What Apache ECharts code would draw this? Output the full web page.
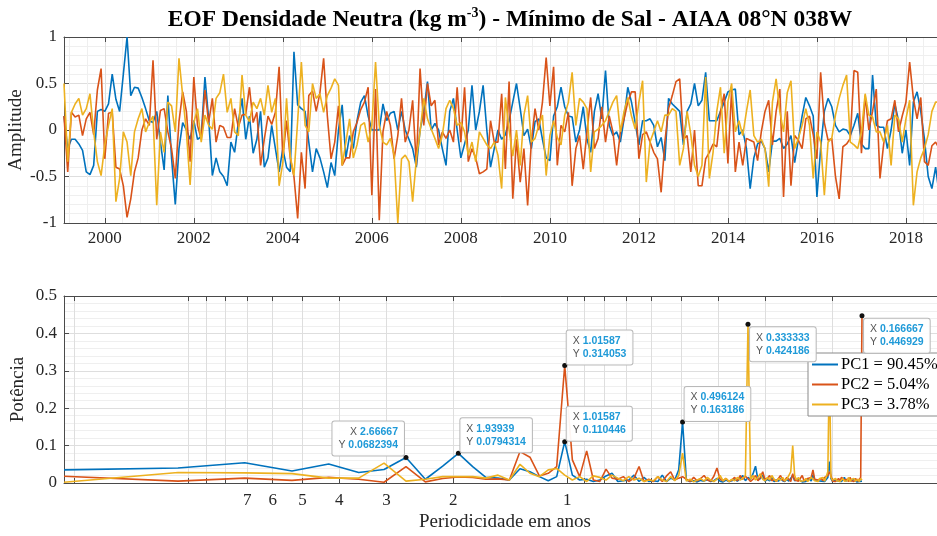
<!DOCTYPE html>
<html><head><meta charset="utf-8">
<script src="https://cdn.jsdelivr.net/npm/echarts@6/dist/echarts.min.js"></script>
<style>html,body{margin:0;padding:0;background:#fff}#c{width:937px;height:536px}</style>
</head><body><div id="c"></div>
<script>
// ---- Top panel: monthly principal-component amplitudes (from Feb 1999) ----
const startYear = 1999 + 1 / 12;
const pc1 = [
 0.15,-0.2,-0.1,-0.1,-0.15,-0.22,-0.45,-0.48,-0.38,0.2,0.22,0.2,
 0.28,0.6,0.33,0.2,0.6,1.0,0.37,0.46,0.45,0.35,0.23,0.1,
 0.08,0.2,-0.13,-0.43,0.37,-0.3,-0.8,-0.2,0.08,0.0,-0.1,0.1,
 -0.1,-0.07,0.57,0.12,-0.49,-0.3,-0.45,-0.5,-0.6,-0.13,-0.24,0.08,
 0.34,-0.1,0.15,-0.25,-0.1,0.2,-0.4,-0.3,0.05,-0.2,-0.45,-0.2,
 -0.4,-0.45,0.84,0.27,0.23,0.2,-0.13,-0.45,-0.2,-0.3,-0.45,-0.62,
 -0.35,-0.49,0.0,0.27,-0.3,-0.06,-0.2,0.1,0.3,0.37,0.15,0.0,
 0.0,0.0,0.28,0.1,0.18,0.2,0.0,0.2,0.0,-0.1,-0.2,-0.4,
 0.0,0.2,0.52,0.0,0.07,0.0,-0.2,-0.38,0.2,0.34,0.0,-0.3,
 -0.15,0.0,0.48,0.0,0.2,0.48,0.0,-0.4,-0.2,0.0,-0.1,-0.05,
 0.1,0.3,0.5,0.23,-0.06,0.01,-0.2,0.09,0.12,-0.1,-0.3,-0.33,
 0.15,0.25,0.46,0.25,0.15,0.14,-0.13,0.0,0.25,-0.1,-0.24,0.2,
 0.39,0.12,0.64,0.05,-0.06,-0.02,-0.13,0.12,0.46,0.3,0.08,-0.16,
 0.1,0.1,0.12,0.05,-0.18,-0.08,-0.33,0.34,0.28,0.24,0.2,-0.16,
 0.2,0.28,0.5,0.26,0.32,0.62,0.1,0.1,0.1,0.2,0.3,0.41,
 0.43,0.44,-0.05,0.0,-0.2,-0.63,-0.3,-0.15,-0.12,-0.2,-0.45,-0.12,
 -0.12,-0.09,-0.2,-0.15,-0.06,-0.35,-0.1,0.15,0.35,0.26,0.15,-0.72,
 -0.2,0.2,0.34,0.25,0.05,-0.02,0.01,0.0,-0.06,0.05,0.18,-0.15,
 -0.2,-0.2,0.59,0.05,0.03,0.03,-0.2,0.0,0.28,0.1,-0.25,0.0,
 -0.38,0.3,0.41,0.2,-0.1,-0.5,-0.63,-0.4,-0.7
];
const pc2 = [
 0.15,-0.45,0.19,0.14,0.16,-0.06,0.12,0.19,-0.05,0.43,0.66,-0.31,
 0.18,0.19,-0.4,-0.42,-0.6,-0.94,-0.74,-0.45,-0.3,0.0,0.12,0.05,
 0.75,-0.1,0.21,0.23,-0.02,-0.2,-0.52,0.09,0.41,0.2,-0.34,0.57,
 0.05,-0.1,0.43,0.08,0.34,-0.13,0.05,0.03,-0.08,-0.08,0.23,0.03,
 0.16,0.17,0.46,0.08,0.19,-0.38,-0.1,0.15,0.06,0.19,0.68,-0.3,
 0.1,-0.3,-0.5,-0.95,-0.24,-0.63,0.37,0.42,0.2,0.4,0.77,0.15,
 -0.31,-0.13,0.26,-0.38,-0.3,-0.3,-0.02,0.08,0.22,0.3,0.46,-0.7,
 0.44,-0.97,-0.02,0.2,0.05,-0.31,-0.06,0.34,-0.13,0.0,0.32,-0.38,
 0.66,0.05,0.5,0.26,0.32,-0.16,-0.02,-0.09,0.0,-0.13,0.46,-0.13,
 0.46,-0.34,-0.2,-0.3,-0.47,-0.45,-0.42,0.1,-0.13,-0.13,0.39,-0.42,
 0.52,-0.74,-0.1,-0.56,-0.2,-0.81,-0.13,0.23,0.0,0.3,0.78,0.26,
 0.68,-0.38,0.05,-0.02,0.19,-0.6,-0.2,-0.06,-0.42,-0.02,0.35,-0.2,
 -0.09,0.25,-0.13,0.15,-0.02,-0.38,-0.02,0.12,0.3,0.41,0.41,-0.31,
 -0.05,-0.02,-0.13,-0.24,-0.31,-0.67,-0.13,0.23,0.37,0.52,0.55,-0.1,
 -0.06,-0.45,0.0,-0.6,-0.6,-0.31,-0.24,-0.15,-0.18,0.2,0.39,-0.36,
 0.43,-0.45,-0.13,-0.38,-0.09,-0.11,-0.13,-0.33,-0.02,0.2,0.32,-0.16,
 0.2,0.44,-0.72,0.2,-0.6,-0.06,-0.11,-0.2,0.12,0.15,-0.05,-0.31,
 0.62,0.08,-0.11,-0.09,-0.5,-0.74,-0.18,-0.15,-0.09,0.64,0.62,-0.25,
 0.37,0.0,0.2,0.44,-0.52,-0.15,0.1,0.12,0.32,-0.02,0.15,0.3,
 0.73,0.34,0.12,0.35,-0.34,-0.38,-0.17,-0.13,-0.2
];
const pc3 = [
 0.5,-0.34,0.19,0.28,0.34,0.16,0.23,0.39,-0.02,-0.34,-0.49,-0.16,
 0.05,0.23,-0.77,-0.52,-0.02,-0.13,-0.49,-0.02,0.12,0.23,-0.02,0.08,
 0.15,-0.81,-0.02,-0.24,0.3,0.26,-0.02,0.77,0.37,-0.02,-0.59,0.08,
 0.23,-0.13,0.16,0.05,0.01,0.34,0.4,0.6,0.19,0.34,-0.02,-0.06,
 0.59,0.16,0.09,0.3,0.23,0.34,0.16,0.48,0.19,0.34,-0.6,-0.35,
 0.34,-0.28,-0.49,0.1,0.73,0.05,-0.02,0.5,0.34,0.39,0.19,0.37,
 0.45,0.55,0.48,-0.38,-0.13,0.12,-0.3,-0.16,0.05,0.08,-0.13,0.05,
 0.73,0.05,-0.13,-0.16,-0.09,-0.27,-1.0,-0.31,-0.27,-0.34,-0.77,-0.31,
 -0.02,0.34,0.12,0.01,-0.09,-0.2,-0.06,0.23,0.32,0.23,0.05,0.08,
 -0.02,-0.27,-0.13,-0.34,-0.02,-0.09,-0.16,-0.2,-0.13,-0.27,-0.63,0.35,
 0.0,-0.28,0.0,-0.38,0.16,0.37,-0.13,-0.09,0.05,0.16,-0.49,-0.06,
 0.1,-0.08,-0.16,0.16,0.3,0.62,0.05,0.34,0.3,0.23,-0.45,-0.02,
 0.01,0.05,0.1,0.2,0.3,0.37,-0.02,0.2,0.35,0.15,0.01,0.3,
 0.53,-0.56,-0.13,-0.02,0.1,-0.02,0.16,0.16,0.23,0.2,-0.38,-0.2,
 0.2,-0.05,-0.38,-0.5,-0.38,0.57,-0.52,-0.24,0.2,0.46,-0.25,0.3,
 0.5,-0.02,0.1,-0.06,0.2,0.43,-0.06,-0.13,-0.1,-0.2,-0.61,0.3,
 0.55,0.2,-0.02,0.4,0.53,-0.2,-0.09,0.05,0.23,0.05,-0.52,-0.02,
 -0.13,-0.7,-0.13,-0.09,0.16,0.34,0.48,0.59,-0.13,-0.16,-0.2,-0.02,
 0.39,0.16,0.14,-0.02,-0.02,-0.13,0.05,-0.38,0.16,0.12,-0.13,0.12,
 0.32,-0.81,-0.45,-0.3,-0.2,-0.05,0.2,0.3,0.3
];

// ---- Bottom panel: power spectra, harmonic k = 1..128 of a 256-point FFT (monthly) ----
const nfft = 256;
const pow1 = [
 0.035,0.04,0.054,0.032,0.051,0.028,0.036,0.0682394,0.01,0.045,
 0.0794314,0.044,0.015,0.013,0.008,0.038,0.03,0.017,0.006,0.017,
 0.110446,0.021,0.008,0.01,0.004,0.008,0.019,0.026,0.004,0.006,
 0.008,0.021,0.004,0.015,0.004,0.006,0.004,0.021,0.004,0.013,
 0.008,0.035,0.163186,0.008,0.004,0.006,0.003,0.007,0.005,0.009,
 0.004,0.006,0.012,0.005,0.003,0.008,0.004,0.006,0.01,0.005,
 0.012,0.02,0.006,0.015,0.01,0.025,0.045,0.008,0.012,0.02,
 0.005,0.01,0.006,0.015,0.004,0.008,0.005,0.012,0.006,0.004,
 0.01,0.005,0.008,0.02,0.006,0.004,0.01,0.005,0.003,0.006,
 0.004,0.008,0.012,0.005,0.022,0.008,0.004,0.006,0.003,0.005,
 0.008,0.004,0.006,0.015,0.057,0.012,0.004,0.006,0.008,0.003,
 0.005,0.01,0.004,0.006,0.015,0.005,0.004,0.008,0.003,0.006,
 0.004,0.01,0.005,0.003,0.006,0.004,0.008,0.005
];
const pow2 = [
 0.018,0.005,0.013,0.007,0.015,0.01,0.002,0.044,0.003,0.012,
 0.016,0.015,0.01,0.011,0.008,0.084,0.069,0.019,0.026,0.044,
 0.314053,0.062,0.017,0.086,0.008,0.004,0.037,0.013,0.01,0.017,
 0.004,0.013,0.044,0.004,0.01,0.004,0.017,0.004,0.019,0.03,
 0.008,0.013,0.017,0.01,0.004,0.015,0.006,0.012,0.02,0.008,
 0.005,0.018,0.04,0.01,0.006,0.012,0.004,0.008,0.015,0.006,
 0.02,0.01,0.018,0.012,0.004,0.01,0.02,0.006,0.015,0.03,
 0.008,0.012,0.02,0.006,0.01,0.004,0.012,0.02,0.008,0.005,
 0.015,0.01,0.004,0.025,0.008,0.012,0.005,0.01,0.02,0.006,
 0.004,0.012,0.008,0.015,0.035,0.01,0.005,0.008,0.004,0.012,
 0.006,0.015,0.01,0.02,0.03,0.02,0.005,0.01,0.004,0.008,
 0.012,0.006,0.015,0.02,0.008,0.005,0.01,0.004,0.015,0.006,
 0.01,0.004,0.012,0.008,0.005,0.01,0.015,0.446929
];
const pow3 = [
 0.002,0.028,0.027,0.025,0.013,0.013,0.053,0.005,0.01,0.017,
 0.017,0.017,0.013,0.021,0.008,0.05,0.026,0.017,0.035,0.039,
 0.021,0.008,0.017,0.004,0.019,0.015,0.008,0.021,0.013,0.006,
 0.017,0.008,0.013,0.004,0.008,0.006,0.017,0.008,0.004,0.017,
 0.006,0.02,0.08,0.005,0.01,0.003,0.008,0.012,0.005,0.015,
 0.008,0.004,0.01,0.02,0.006,0.012,0.004,0.01,0.006,0.015,
 0.008,0.012,0.02,0.424186,0.01,0.02,0.008,0.015,0.025,0.01,
 0.006,0.015,0.008,0.02,0.01,0.005,0.012,0.008,0.015,0.006,
 0.01,0.02,0.03,0.1,0.02,0.008,0.015,0.005,0.01,0.006,
 0.012,0.004,0.008,0.015,0.012,0.006,0.01,0.004,0.012,0.008,
 0.015,0.005,0.01,0.03,0.33,0.015,0.008,0.005,0.012,0.006,
 0.01,0.004,0.008,0.012,0.005,0.01,0.006,0.015,0.004,0.01,
 0.006,0.012,0.005,0.008,0.01,0.004,0.012,0.008
];

const seriesNames = ['PC1 = 90.45%', 'PC2 = 5.04%', 'PC3 = 3.78%'];
const yearTicks = [2000, 2002, 2004, 2006, 2008, 2010, 2012, 2014, 2016, 2018];
const periodLabels = [7, 6, 5, 4, 3, 2, 1];
const periodTicks = [20, 10, 9, 8, 7, 6, 5, 4, 3, 2, 1, 0.9, 0.8, 0.7, 0.6, 0.5, 0.4, 0.3, 0.2];
// data tips: series index, harmonic k, placement
const tips = [
  {s: 0, k: 8, place: 'lu'}, {s: 0, k: 11, place: 'ru'}, {s: 1, k: 21, place: 'ru'},
  {s: 0, k: 21, place: 'ru'}, {s: 0, k: 43, place: 'ru'}, {s: 2, k: 64, place: 'rd'},
  {s: 1, k: 128, place: 'rd'}
];

// ---- styling ----
const colors = ['#0072BD', '#D95319', '#EDB120'];
const serif = '"Liberation Serif", "Times New Roman", serif';
const axisCol = '#4a4a4a';
const frame = {show: true, onZero: false, lineStyle: {color: axisCol, width: 1}};
const gridMajor = {show: true, lineStyle: {color: '#dedede', width: 1}};
const gridMinor = {show: true, lineStyle: {color: '#efefef', width: 1}};
const tickLbl = {fontFamily: serif, fontSize: 17, color: '#262626'};
const nameStyle = {fontFamily: serif, fontSize: 19, color: '#262626'};

const tMin = startYear, tMax = 2018.9;
const minorYears = [];
for (let j = 0; j <= 55; j++) {
  const v = +(1998 + j * 0.4).toFixed(1);
  if (Math.abs(v - Math.round(v / 2) * 2) > 1e-6 && v > tMin && v < tMax) minorYears.push(v);
}
const pMin = 0.1, pMax = nfft / 12;
const lg = Math.log10;

const pcs = [pc1, pc2, pc3];
const pows = [pow1, pow2, pow3];
const periodOf = k => nfft / (12 * k);
const fmt = v => String(Number(v.toPrecision(6)));

function tipItem(t) {
  const x = periodOf(t.k), y = pows[t.s][t.k - 1];
  const lab = {
    formatter: '{l|X }{v|' + fmt(x) + '}\n{l|Y }{v|' + fmt(y) + '}',
    position: 'inside'
  };
  if (t.place === 'lu') { lab.align = 'right'; lab.verticalAlign = 'bottom'; lab.offset = [-2, -2]; }
  else if (t.place === 'ru') { lab.align = 'left'; lab.verticalAlign = 'bottom'; lab.offset = [2, -1]; }
  else { lab.align = 'left'; lab.verticalAlign = 'top'; lab.offset = [2, 3]; }
  return {coord: [x, y], label: lab};
}

const series = [];
pcs.forEach((arr, s) => {
  series.push({
    name: 'amp' + s, type: 'line', xAxisIndex: 0, yAxisIndex: 0,
    data: arr.map((v, i) => [startYear + i / 12, v]),
    showSymbol: false, color: colors[s], lineStyle: {width: 1.6, color: colors[s]},
    animation: false
  });
});
pows.forEach((arr, s) => {
  series.push({
    name: seriesNames[s], type: 'line', xAxisIndex: 3, yAxisIndex: 1,
    data: arr.map((v, i) => [periodOf(i + 1), v]),
    showSymbol: false, color: colors[s], lineStyle: {width: 1.6, color: colors[s]},
    animation: false,
    markPoint: {
      symbol: 'circle', symbolSize: 5, itemStyle: {color: '#111'}, animation: false,
      label: {
        show: true, backgroundColor: 'rgba(255,255,255,0.94)', borderColor: '#b9b9b9',
        borderWidth: 1, borderRadius: 2, padding: [4, 6, 4, 6], lineHeight: 13,
        rich: {
          l: {fontFamily: '"Liberation Sans", Arial, sans-serif', fontSize: 10.5, color: '#555', lineHeight: 13},
          v: {fontFamily: '"Liberation Sans", Arial, sans-serif', fontSize: 10.5, fontWeight: 'bold', color: '#1f9ad8', lineHeight: 13}
        }
      },
      data: tips.filter(t => t.s === s).map(tipItem)
    }
  });
});

const option = {
  backgroundColor: '#fff',
  animation: false,
  title: {
    text: '{a|EOF Densidade Neutra (kg m}{s|-3}{a|) - Mínimo de Sal - AIAA 08°N 038W}',
    left: 505, top: 1, textAlign: 'center',
    textStyle: {
      rich: {
        a: {fontFamily: serif, fontWeight: 'bold', fontSize: 23.5, color: '#000', lineHeight: 28},
        s: {fontFamily: serif, fontWeight: 'bold', fontSize: 14, color: '#000', verticalAlign: 'top', lineHeight: 14}
      }
    }
  },
  legend: {
    data: seriesNames, orient: 'vertical', left: 808, top: 353,
    itemWidth: 26, itemHeight: 2, icon: 'rect', itemGap: 3, selectedMode: false,
    textStyle: {fontFamily: serif, fontSize: 16.5, color: '#000', padding: [0, 0, 0, -2]},
    backgroundColor: '#fff', borderColor: '#8a8a8a', borderWidth: 1, padding: [3, 6, 3, 4]
  },
  grid: [
    {left: 64, top: 37, width: 882, height: 186, containLabel: false, outerBoundsMode: 'none'},
    {left: 64, top: 296, width: 882, height: 187, containLabel: false, outerBoundsMode: 'none'}
  ],
  xAxis: [
    {gridIndex: 0, type: 'value', min: tMin, max: tMax, position: 'bottom', axisLine: frame,
     axisTick: {inside: true, length: 5, customValues: yearTicks, lineStyle: {color: axisCol}},
     axisLabel: Object.assign({customValues: yearTicks, margin: 7, formatter: v => String(Math.round(v))}, tickLbl),
     splitLine: gridMajor},
    {gridIndex: 0, type: 'value', min: tMin, max: tMax, position: 'top', axisLine: frame,
     axisTick: {inside: true, length: 5, customValues: yearTicks, lineStyle: {color: axisCol}},
     axisLabel: {show: false}, splitLine: {show: false}},
    {gridIndex: 0, type: 'value', min: tMin, max: tMax, position: 'bottom', axisLine: {show: false},
     axisTick: {show: false, customValues: minorYears}, axisLabel: {show: false}, splitLine: gridMinor, z: 0},
    {gridIndex: 1, type: 'log', logBase: 10, min: pMin, max: pMax, inverse: true, position: 'bottom',
     axisLine: frame, axisTick: {show: false}, axisLabel: {show: false}, splitLine: {show: false}},
    {gridIndex: 1, type: 'value', min: lg(pMin), max: lg(pMax), inverse: true, position: 'bottom',
     axisLine: {show: false},
     axisTick: {inside: true, length: 5, customValues: periodTicks.map(lg), lineStyle: {color: axisCol}},
     axisLabel: Object.assign({customValues: periodLabels.map(lg), margin: 9,
       formatter: v => String(Math.round(Math.pow(10, v)))}, tickLbl),
     splitLine: gridMajor,
     name: 'Periodicidade em anos', nameLocation: 'middle', nameGap: 30, nameMoveOverlap: false,
     nameTextStyle: nameStyle},
    {gridIndex: 1, type: 'value', min: lg(pMin), max: lg(pMax), inverse: true, position: 'top',
     axisLine: frame,
     axisTick: {inside: true, length: 5, customValues: periodTicks.map(lg), lineStyle: {color: axisCol}},
     axisLabel: {show: false}, splitLine: {show: false}}
  ],
  yAxis: [
    {gridIndex: 0, type: 'value', min: -1, max: 1, interval: 0.5, axisLine: frame,
     axisTick: {inside: true, length: 5, lineStyle: {color: axisCol}},
     minorTick: {show: false, splitNumber: 5}, minorSplitLine: gridMinor, splitLine: gridMajor,
     axisLabel: Object.assign({margin: 7}, tickLbl),
     name: 'Amplitude', nameLocation: 'middle', nameGap: 38, nameMoveOverlap: false, nameTextStyle: nameStyle},
    {gridIndex: 1, type: 'value', min: 0, max: 0.5, interval: 0.1, axisLine: frame,
     axisTick: {inside: true, length: 5, lineStyle: {color: axisCol}},
     minorTick: {show: false, splitNumber: 5}, minorSplitLine: gridMinor, splitLine: gridMajor,
     axisLabel: Object.assign({margin: 7}, tickLbl),
     name: 'Potência', nameLocation: 'middle', nameGap: 36, nameMoveOverlap: false, nameTextStyle: nameStyle}
  ],
  series: series
};

const chart = echarts.init(document.getElementById('c'), null, {renderer: 'canvas'});
chart.setOption(option);
</script>
</body></html>
